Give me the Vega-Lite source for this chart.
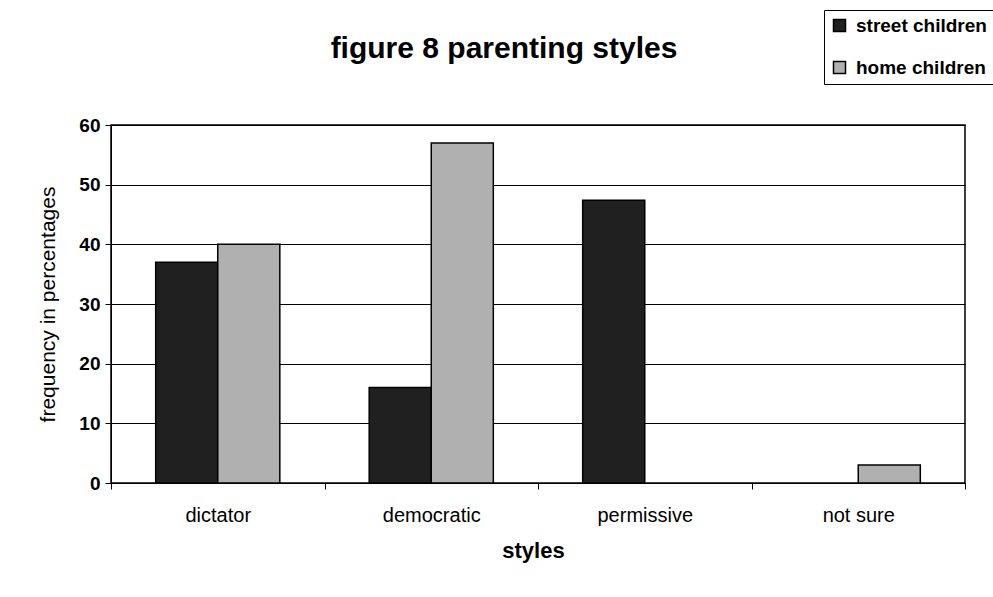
{
  "$schema": "https://vega.github.io/schema/vega-lite/v6.json",
  "width": 854,
  "height": 358,
  "autosize": {"type": "none"},
  "padding": {"left": 111, "top": 125, "right": 28, "bottom": 114},
  "background": "white",
  "title": {
    "text": "figure 8 parenting styles",
    "font": "Liberation Sans",
    "fontSize": 30,
    "fontWeight": "bold",
    "color": "black",
    "anchor": "middle",
    "frame": "group",
    "dx": -34,
    "offset": -54
  },
  "data": {
    "values": [
      {"style": "dictator", "group": "street children", "value": 37},
      {"style": "dictator", "group": "home children", "value": 40},
      {"style": "democratic", "group": "street children", "value": 16},
      {"style": "democratic", "group": "home children", "value": 57},
      {"style": "permissive", "group": "street children", "value": 47.4},
      {"style": "not sure", "group": "home children", "value": 3}
    ]
  },
  "mark": {"type": "bar", "stroke": "black", "strokeWidth": 1.5},
  "encoding": {
    "x": {
      "field": "style",
      "type": "nominal",
      "sort": ["dictator", "democratic", "permissive", "not sure"],
      "scale": {"domain": ["dictator", "democratic", "permissive", "not sure"], "paddingInner": 0, "paddingOuter": 0},
      "axis": {
        "title": "styles",
        "titleFont": "Liberation Sans",
        "titleFontSize": 22,
        "titleFontWeight": "bold",
        "titleColor": "black",
        "titlePadding": 15,
        "titleX": 422,
        "labelFont": "Liberation Sans",
        "labelFontSize": 20,
        "labelFontWeight": "normal",
        "labelColor": "black",
        "labelAngle": 0,
        "labelPadding": 16,
        "tickBand": "extent",
        "tickColor": "black",
        "tickSize": 6,
        "domainColor": "black",
        "grid": false
      }
    },
    "xOffset": {
      "field": "group",
      "type": "nominal",
      "sort": ["street children", "home children"],
      "scale": {"domain": ["street children", "home children"], "paddingInner": 0, "paddingOuter": 0.72}
    },
    "y": {
      "field": "value",
      "type": "quantitative",
      "scale": {"domain": [0, 60], "nice": false},
      "axis": {
        "title": "frequency in percentages",
        "titleFont": "Liberation Sans",
        "titleFontSize": 21,
        "titleFontWeight": "normal",
        "titleColor": "black",
        "titlePadding": 20,
        "values": [0, 10, 20, 30, 40, 50, 60],
        "labelFont": "Liberation Sans",
        "labelFontSize": 19,
        "labelFontWeight": "bold",
        "labelColor": "black",
        "labelPadding": 5,
        "tickColor": "black",
        "tickSize": 6,
        "domainColor": "black",
        "grid": true,
        "gridColor": "black",
        "gridOpacity": 1,
        "gridWidth": 1
      }
    },
    "color": {
      "field": "group",
      "type": "nominal",
      "sort": ["street children", "home children"],
      "scale": {"domain": ["street children", "home children"], "range": ["#202020", "#b0b0b0"]},
      "legend": {
        "title": null,
        "orient": "none",
        "legendX": 713,
        "legendY": -115,
        "symbolType": "square",
        "symbolSize": 144,
        "symbolStrokeColor": "black",
        "symbolStrokeWidth": 1.5,
        "labelFont": "Liberation Sans",
        "labelFontSize": 19,
        "labelFontWeight": "bold",
        "labelColor": "black",
        "labelOffset": 7,
        "rowPadding": 22,
        "padding": 6,
        "strokeColor": "black",
        "fillColor": "white"
      }
    }
  },
  "config": {
    "view": {"stroke": "black", "strokeWidth": 1.5}
  }
}
